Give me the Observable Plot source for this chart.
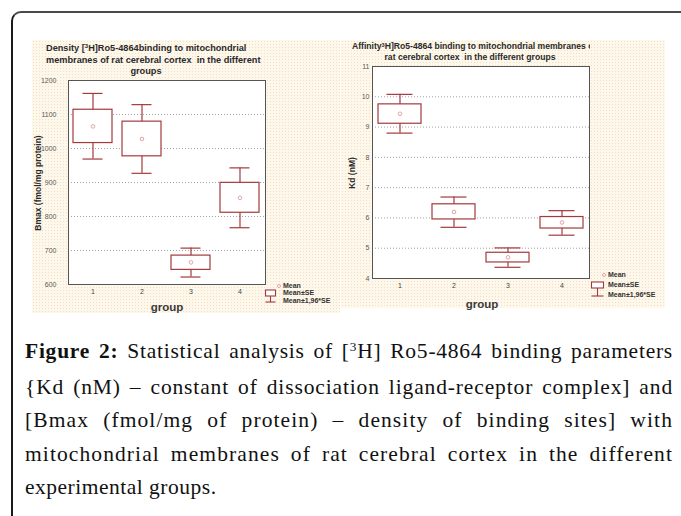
<!DOCTYPE html>
<html><head><meta charset="utf-8">
<script src="https://cdn.jsdelivr.net/npm/d3@7"></script>
<script src="https://cdn.jsdelivr.net/npm/@observablehq/plot@0.6"></script>
<style>
body{margin:0;width:681px;height:516px;overflow:hidden;background:#fff;position:relative;font-family:"Liberation Sans",Arial,sans-serif;}
.abs{position:absolute;}
#frame{left:11px;top:11px;width:740px;height:580px;border-left:2px solid #1a1a1a;border-top:2px solid #4a4a4a;border-top-left-radius:10px;}
.bg{background-color:#fdf8ea;background-image:radial-gradient(circle,rgba(236,192,172,0.5) 0.6px,transparent 1px);background-size:3px 3px;}
.title{font-weight:bold;color:#2a2a2a;text-align:center;white-space:nowrap;}
.ylab{font-weight:bold;color:#2a2a2a;font-size:8.5px;white-space:nowrap;transform:translate(-50%,-50%) rotate(-90deg);}
.xlab{font-weight:bold;color:#3a3a3a;font-size:11.5px;transform:translate(-50%,-50%);}
.tsup{font-size:0.65em;position:relative;top:-0.45em;}
#caption{left:25px;top:335px;width:648px;font-family:"Liberation Serif","Times New Roman",serif;font-size:21.5px;line-height:33.5px;color:#111;}
#caption div{white-space:nowrap;}
#caption div span.w{display:inline-block;}
#caption sup{font-size:0.62em;vertical-align:0;position:relative;top:-0.55em;}
</style></head>
<body>
<div id="frame" class="abs"></div>
<div id="bgL" class="abs bg" style="left:32px;top:40px;width:308px;height:273px;"></div>
<div id="bgR" class="abs bg" style="left:341px;top:40px;width:324px;height:268px;"></div>
<div id="plotL" class="abs" style="left:32px;top:40px;"></div>
<div id="plotR" class="abs" style="left:341px;top:40px;"></div>

<div class="abs title" style="left:46px;top:43px;width:200px;font-size:9.2px;line-height:11px;">Density [<span class="tsup">3</span>H]Ro5-4864binding to mitochondrial<br>membranes of rat cerebral cortex&nbsp; in the different<br>groups</div>
<div class="abs title" style="left:352px;top:41px;width:238px;font-size:8.6px;line-height:10.5px;overflow:hidden;text-align:left;">Affinity<span class="tsup">3</span>H]Ro5-4864 binding to mitochondrial membranes of</div>
<div class="abs title" style="left:370px;top:52px;width:200px;font-size:8.6px;line-height:10.5px;">rat cerebral cortex&nbsp; in the different groups</div>

<div class="abs ylab" style="left:38px;top:183px;">Bmax (fmol/mg protein)</div>
<div class="abs ylab" style="left:352px;top:173px;">Kd (nM)</div>
<div class="abs xlab" style="left:167px;top:307px;">group</div>
<div class="abs xlab" style="left:482px;top:304px;">group</div>

<div id="legL" class="abs" style="left:265px;top:280px;"></div>
<div id="legR" class="abs" style="left:591px;top:269px;"></div>

<div id="caption" class="abs">
<div class="j"><b>Figure 2:</b> Statistical analysis of [<sup>3</sup>H] Ro5-4864 binding parameters</div>
<div class="j">{Kd (nM) – constant of dissociation ligand-receptor complex] and</div>
<div class="j">[Bmax (fmol/mg of protein) – density of binding sites] with</div>
<div class="j">mitochondrial membranes of rat cerebral cortex in the different</div>
<div class="last">experimental groups.</div>
</div>

<script>
// ---- data ----
const groups = [1, 2, 3, 4];

// Density (Bmax, fmol/mg protein)
const bmaxMean        = [1065, 1028, 665, 855];
const bmaxSeLow       = [1016,  977, 643, 811];
const bmaxSeHigh      = [1114, 1079, 685, 899];
const bmaxCiLow       = [ 969,  927, 622, 767];
const bmaxCiHigh      = [1162, 1129, 707, 943];
const bmaxTicks       = [600, 700, 800, 900, 1000, 1100, 1200];

// Affinity (Kd, nM)
const kdMean          = [9.44, 6.20, 4.70, 5.85];
const kdSeLow         = [9.11, 5.95, 4.53, 5.65];
const kdSeHigh        = [9.75, 6.45, 4.85, 6.03];
const kdCiLow         = [8.80, 5.69, 4.37, 5.43];
const kdCiHigh        = [10.08, 6.69, 5.01, 6.24];
const kdTicks         = [4, 5, 6, 7, 8, 9, 10, 11];

const legendLabels = ["Mean", "Mean±SE", "Mean±1,96*SE"];

const RED = "#a4393d";
const MEANC = "#e2a4a4";

function rowsOf(mean, seLo, seHi, ciLo, ciHi) {
  return groups.map((g, i) => ({g, mean: mean[i], seLo: seLo[i], seHi: seHi[i], ciLo: ciLo[i], ciHi: ciHi[i]}));
}

function panel(o) {
  const rows = rowsOf(...o.series);
  const t = o.ticks;
  return Plot.plot({
    width: o.width, height: o.height,
    marginLeft: o.ml, marginRight: o.mr, marginTop: o.mt, marginBottom: o.mb,
    style: {background: "transparent", fontFamily: "'Liberation Sans', Arial, sans-serif", fontSize: "7px", color: "#555", overflow: "visible"},
    x: {type: "band", domain: groups, paddingInner: 0.2, paddingOuter: 0.1, label: null},
    y: {domain: [t[0], t[t.length - 1]], label: null},
    marks: [
      Plot.frame({fill: "white", stroke: "none"}),
      Plot.gridY(t.slice(1, -1), {stroke: "#999", strokeOpacity: 0.9, strokeDasharray: "1,2"}),
      Plot.axisY(t, {tickSize: 0, tickPadding: o.tp, label: null, fill: "#5a5a5a", tickFormat: d3.format("d")}),
      Plot.axisX(groups, {tickSize: 0, tickPadding: 5, label: null, fill: "#444"}),
      Plot.ruleX(rows, {x: "g", y1: "ciLo", y2: "ciHi", stroke: RED, strokeWidth: 1.2}),
      Plot.barY(rows, {x: "g", y1: "seLo", y2: "seHi", fill: "white", stroke: RED, strokeWidth: 1.2}),
      Plot.tickY(rows, {x: "g", y: "ciLo", insetLeft: o.cap, insetRight: o.cap, stroke: RED, strokeWidth: 1.2}),
      Plot.tickY(rows, {x: "g", y: "ciHi", insetLeft: o.cap, insetRight: o.cap, stroke: RED, strokeWidth: 1.2}),
      Plot.dot(rows, {x: "g", y: "mean", r: 1.8, stroke: MEANC, fill: "white", strokeWidth: 1}),
      Plot.frame({stroke: "#555", strokeWidth: 1})
    ]
  });
}

document.getElementById("plotL").append(panel({
  width: 308, height: 273, ml: 36, mr: 75, mt: 40, mb: 29, tp: 12, cap: 9.5,
  ticks: bmaxTicks, series: [bmaxMean, bmaxSeLow, bmaxSeHigh, bmaxCiLow, bmaxCiHigh]
}));
document.getElementById("plotR").append(panel({
  width: 324, height: 268, ml: 31, mr: 76, mt: 26, mb: 30, tp: 3, cap: 8.5,
  ticks: kdTicks, series: [kdMean, kdSeLow, kdSeHigh, kdCiLow, kdCiHigh]
}));

// legend (symbols + labels)
function legend(el, boxW, textX, rowsY) {
  const NS = "http://www.w3.org/2000/svg";
  const svg = document.createElementNS(NS, "svg");
  svg.setAttribute("width", 80); svg.setAttribute("height", 34);
  svg.style.overflow = "visible";
  const cx = boxW / 2 + 0.5;
  const mk = (tag, attrs) => { const e = document.createElementNS(NS, tag); for (const k in attrs) e.setAttribute(k, attrs[k]); svg.append(e); return e; };
  mk("circle", {cx: textX - 4, cy: rowsY[0], r: 1.5, fill: "white", stroke: MEANC});
  mk("rect", {x: 0.5, y: rowsY[1] - 3, width: boxW, height: 6, fill: "white", stroke: RED, "stroke-width": 1.1});
  mk("line", {x1: cx, x2: cx, y1: rowsY[1] + 3, y2: rowsY[2] + 1, stroke: RED, "stroke-width": 1.1});
  mk("line", {x1: 0.5, x2: boxW + 0.5, y1: rowsY[2] + 1, y2: rowsY[2] + 1, stroke: RED, "stroke-width": 1.1});
  legendLabels.forEach((s, i) => {
    const t = mk("text", {x: textX, y: rowsY[i], dy: "0.35em", "font-size": 7, "font-weight": "bold", fill: "#333", "font-family": "'Liberation Sans', Arial, sans-serif"});
    t.textContent = s;
  });
  el.append(svg);
}
legend(document.getElementById("legL"), 10, 18, [6, 13, 21]);
legend(document.getElementById("legR"), 12, 17, [6, 16, 26]);

// caption: per-line letter spacing toward a natural width, then justify
const CAP_W = 648, TARGET = 626;
document.querySelectorAll("#caption div").forEach(div => {
  div.style.display = "inline-block";
  const nat = div.getBoundingClientRect().width;
  const n = div.textContent.length;
  let ls = Math.max(0, Math.min(1.1, (TARGET - nat) / n));
  if (div.classList.contains("last")) ls = 0.5;
  div.style.letterSpacing = ls + "px";
  div.style.display = "block";
  if (div.classList.contains("j")) { div.style.textAlign = "justify"; div.style.textAlignLast = "justify"; }
  else { div.style.textAlign = "left"; }
});
</script>
</body></html>
